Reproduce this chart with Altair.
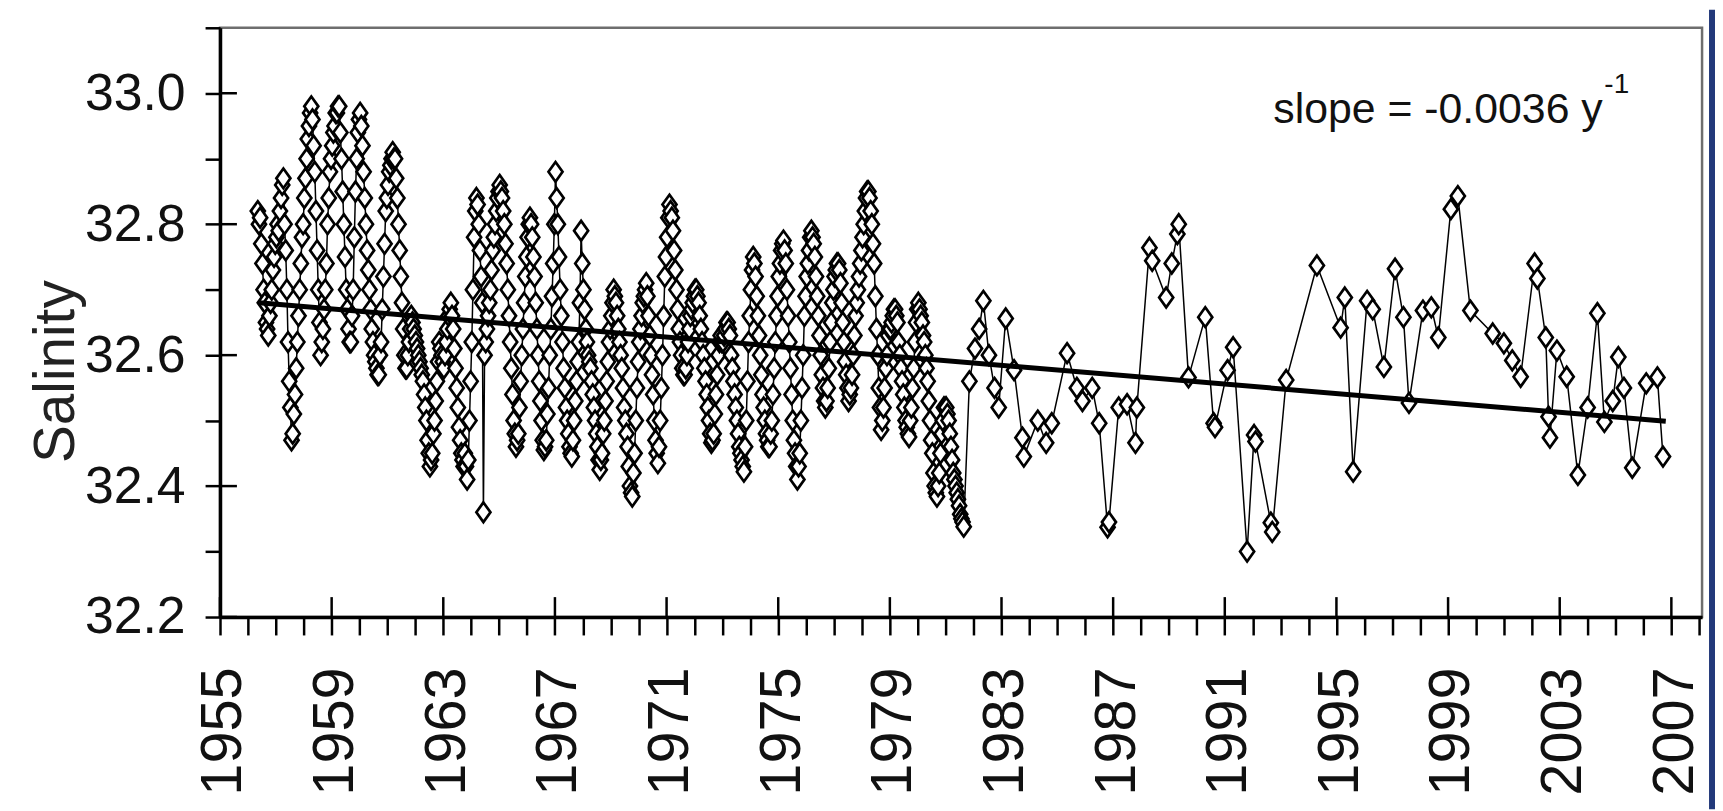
import altair as alt
import pandas as pd

# ---------------- data ----------------
# semi-monthly salinity (24 per year); 1956 starts in May, 1981 ends in August
sal_1956 = [32.82, 32.80, 32.81, 32.77, 32.74, 32.70, 32.68, 32.65, 32.64, 32.63, 32.66, 32.68,
            32.70, 32.73, 32.75, 32.77]
sal_1957 = [32.78, 32.80, 32.79, 32.82, 32.84, 32.86, 32.87, 32.80, 32.76, 32.70, 32.62, 32.56,
            32.52, 32.47, 32.48, 32.51, 32.54, 32.58, 32.62, 32.66, 32.70, 32.74, 32.78, 32.80]
sal_1958 = [32.84, 32.87, 32.90, 32.93, 32.95, 32.97, 32.98, 32.96, 32.92, 32.88, 32.82, 32.76,
            32.70, 32.65, 32.60, 32.62, 32.64, 32.67, 32.70, 32.74, 32.80, 32.84, 32.88, 32.90]
sal_1959 = [32.92, 32.94, 32.95, 32.97, 32.97, 32.98, 32.98, 32.94, 32.90, 32.85, 32.80, 32.75,
            32.70, 32.67, 32.64, 32.62, 32.62, 32.66, 32.70, 32.78, 32.85, 32.90, 32.94, 32.96]
sal_1960 = [32.97, 32.95, 32.92, 32.88, 32.84, 32.80, 32.76, 32.73, 32.70, 32.67, 32.64, 32.62,
            32.60, 32.59, 32.58, 32.57, 32.57, 32.60, 32.62, 32.67, 32.72, 32.77, 32.82, 32.84]
sal_1961 = [32.86, 32.88, 32.89, 32.90, 32.91, 32.90, 32.90, 32.87, 32.84, 32.80, 32.76, 32.72,
            32.68, 32.64, 32.60, 32.58, 32.58, 32.60, 32.62, 32.64, 32.66, 32.65, 32.64, 32.63]
sal_1962 = [32.62, 32.61, 32.60, 32.59, 32.58, 32.57, 32.56, 32.54, 32.52, 32.50, 32.47, 32.45,
            32.43, 32.44, 32.45, 32.48, 32.50, 32.53, 32.56, 32.59, 32.62, 32.61, 32.60, 32.59]
sal_1963 = [32.58, 32.60, 32.62, 32.64, 32.66, 32.67, 32.68, 32.66, 32.64, 32.61, 32.58, 32.55,
            32.52, 32.49, 32.47, 32.45, 32.44, 32.43, 32.45, 32.43, 32.41, 32.44, 32.50, 32.56]
sal_1964 = [32.62, 32.70, 32.78, 32.82, 32.84, 32.83, 32.80, 32.76, 32.72, 32.68, 32.36, 32.60,
            32.62, 32.64, 32.66, 32.68, 32.70, 32.73, 32.76, 32.78, 32.80, 32.82, 32.84, 32.85]
sal_1965 = [32.86, 32.85, 32.84, 32.82, 32.80, 32.77, 32.74, 32.70, 32.66, 32.62, 32.58, 32.54,
            32.50, 32.48, 32.46, 32.47, 32.48, 32.52, 32.56, 32.60, 32.64, 32.68, 32.72, 32.75]
sal_1966 = [32.78, 32.80, 32.81, 32.80, 32.78, 32.75, 32.72, 32.68, 32.64, 32.60, 32.56, 32.53,
            32.50, 32.47, 32.455, 32.46, 32.47, 32.51, 32.55, 32.60, 32.64, 32.69, 32.74, 32.80]
sal_1967 = [32.88, 32.84, 32.80, 32.75, 32.70, 32.66, 32.62, 32.58, 32.55, 32.52, 32.50, 32.48,
            32.46, 32.45, 32.445, 32.47, 32.50, 32.53, 32.56, 32.59, 32.62, 32.68, 32.79, 32.74]
sal_1968 = [32.70, 32.67, 32.64, 32.62, 32.60, 32.59, 32.58, 32.56, 32.54, 32.52, 32.50, 32.48,
            32.46, 32.44, 32.425, 32.44, 32.45, 32.48, 32.50, 32.53, 32.56, 32.59, 32.62, 32.64]
sal_1969 = [32.66, 32.68, 32.70, 32.69, 32.68, 32.66, 32.64, 32.62, 32.60, 32.58, 32.55, 32.52,
            32.50, 32.48, 32.46, 32.43, 32.40, 32.39, 32.384, 32.42, 32.45, 32.50, 32.55, 32.59]
sal_1970 = [32.62, 32.64, 32.66, 32.68, 32.69, 32.70, 32.71, 32.69, 32.66, 32.63, 32.60, 32.57,
            32.54, 32.50, 32.47, 32.45, 32.435, 32.46, 32.50, 32.55, 32.60, 32.66, 32.72, 32.75]
sal_1971 = [32.78, 32.81, 32.83, 32.82, 32.81, 32.79, 32.76, 32.73, 32.70, 32.67, 32.64, 32.62,
            32.60, 32.58, 32.57, 32.57, 32.58, 32.60, 32.62, 32.64, 32.66, 32.67, 32.68, 32.69]
sal_1972 = [32.70, 32.70, 32.69, 32.68, 32.66, 32.64, 32.62, 32.60, 32.58, 32.56, 32.54, 32.52,
            32.50, 32.48, 32.466, 32.47, 32.48, 32.51, 32.54, 32.57, 32.60, 32.62, 32.63, 32.62]
sal_1973 = [32.62, 32.63, 32.64, 32.65, 32.65, 32.64, 32.63, 32.60, 32.58, 32.56, 32.54, 32.52,
            32.50, 32.48, 32.46, 32.45, 32.44, 32.43, 32.422, 32.46, 32.50, 32.56, 32.62, 32.66]
sal_1974 = [32.70, 32.73, 32.75, 32.74, 32.72, 32.69, 32.66, 32.63, 32.60, 32.57, 32.54, 32.52,
            32.50, 32.48, 32.47, 32.46, 32.46, 32.48, 32.50, 32.54, 32.58, 32.62, 32.66, 32.69]
sal_1975 = [32.72, 32.74, 32.76, 32.77, 32.775, 32.76, 32.74, 32.70, 32.66, 32.62, 32.58, 32.54,
            32.50, 32.47, 32.45, 32.43, 32.41, 32.43, 32.45, 32.50, 32.55, 32.60, 32.66, 32.69]
sal_1976 = [32.72, 32.74, 32.76, 32.78, 32.79, 32.78, 32.77, 32.75, 32.72, 32.69, 32.66, 32.63,
            32.60, 32.57, 32.55, 32.53, 32.52, 32.53, 32.55, 32.58, 32.62, 32.65, 32.68, 32.70]
sal_1977 = [32.72, 32.73, 32.74, 32.74, 32.73, 32.71, 32.68, 32.65, 32.62, 32.59, 32.57, 32.55,
            32.53, 32.54, 32.55, 32.57, 32.60, 32.63, 32.66, 32.68, 32.70, 32.72, 32.74, 32.76]
sal_1978 = [32.78, 32.80, 32.82, 32.84, 32.85, 32.85, 32.84, 32.82, 32.80, 32.77, 32.74, 32.69,
            32.64, 32.60, 32.55, 32.52, 32.486, 32.50, 32.52, 32.55, 32.58, 32.60, 32.63, 32.64]
sal_1979 = [32.64, 32.65, 32.66, 32.67, 32.67, 32.66, 32.65, 32.62, 32.60, 32.58, 32.56, 32.54,
            32.52, 32.50, 32.49, 32.48, 32.475, 32.50, 32.52, 32.55, 32.58, 32.62, 32.65, 32.67]
sal_1980 = [32.68, 32.67, 32.66, 32.65, 32.63, 32.62, 32.60, 32.58, 32.56, 32.53, 32.50, 32.47,
            32.45, 32.42, 32.40, 32.39, 32.384, 32.40, 32.42, 32.45, 32.48, 32.50, 32.52, 32.52]
sal_1981 = [32.52, 32.51, 32.50, 32.48, 32.46, 32.44, 32.42, 32.41, 32.40, 32.39, 32.38, 32.37,
            32.357, 32.35, 32.345, 32.338]

# irregular samples after 1981
late_year = [1981.85, 1982.05, 1982.2, 1982.35, 1982.55, 1982.75, 1982.9, 1983.15, 1983.45,
             1983.75, 1983.8, 1984.3, 1984.6, 1984.8, 1985.35, 1985.7, 1985.9, 1986.25,
             1986.5, 1986.8, 1986.85, 1987.2, 1987.5, 1987.8, 1987.85, 1988.3, 1988.4,
             1988.9, 1989.1, 1989.3, 1989.35, 1989.7, 1990.3, 1990.6, 1990.65, 1991.1,
             1991.3, 1991.8, 1992.05, 1992.1, 1992.65, 1992.7, 1993.2, 1994.3, 1995.15,
             1995.3, 1995.6, 1996.1, 1996.3, 1996.7, 1997.1, 1997.4, 1997.6, 1998.1,
             1998.4, 1998.65, 1999.1, 1999.35, 1999.8, 2000.6, 2001.0, 2001.3, 2001.6,
             2002.1, 2002.2, 2002.5, 2002.6, 2002.65, 2002.9, 2003.25, 2003.65, 2004.0,
             2004.35, 2004.6, 2004.9, 2005.1, 2005.3, 2005.6, 2006.1, 2006.5, 2006.7]
late_sal = [32.56, 32.61, 32.64, 32.683, 32.60, 32.55, 32.52, 32.656, 32.577,
            32.474, 32.445, 32.50, 32.466, 32.496, 32.603, 32.55, 32.53, 32.55,
            32.496, 32.337, 32.345, 32.52, 32.525, 32.466, 32.52, 32.764, 32.744,
            32.688, 32.74, 32.785, 32.80, 32.566, 32.658, 32.496, 32.49, 32.577,
            32.612, 32.30, 32.478, 32.468, 32.344, 32.33, 32.562, 32.737, 32.642,
            32.688, 32.422, 32.683, 32.67, 32.582, 32.732, 32.658, 32.527, 32.668,
            32.673, 32.627, 32.823, 32.843, 32.668, 32.633, 32.618, 32.592, 32.567,
            32.74, 32.717, 32.627, 32.506, 32.474, 32.607, 32.567, 32.417, 32.52,
            32.664, 32.498, 32.53, 32.597, 32.55, 32.428, 32.557, 32.566, 32.445]

# linear trend (slope -0.0036 per year)
trend_year = [1956.4, 2006.8]
trend_sal = [32.680, 32.499]

# axis ticks and labels
x_major = [1955, 1959, 1963, 1967, 1971, 1975, 1979, 1983, 1987, 1991, 1995, 1999, 2003, 2007]
x_all = list(range(1955, 2009))
y_major = [32.2, 32.4, 32.6, 32.8, 33.0]
y_all = [32.2, 32.3, 32.4, 32.5, 32.6, 32.7, 32.8, 32.9, 33.0, 33.1]
slope_label = "slope = -0.0036 y"
slope_sup = "-1"

# ---------------- build table ----------------
halfmonthly = [(1956, sal_1956, 8), (1957, sal_1957, 0), (1958, sal_1958, 0), (1959, sal_1959, 0),
               (1960, sal_1960, 0), (1961, sal_1961, 0), (1962, sal_1962, 0), (1963, sal_1963, 0),
               (1964, sal_1964, 0), (1965, sal_1965, 0), (1966, sal_1966, 0), (1967, sal_1967, 0),
               (1968, sal_1968, 0), (1969, sal_1969, 0), (1970, sal_1970, 0), (1971, sal_1971, 0),
               (1972, sal_1972, 0), (1973, sal_1973, 0), (1974, sal_1974, 0), (1975, sal_1975, 0),
               (1976, sal_1976, 0), (1977, sal_1977, 0), (1978, sal_1978, 0), (1979, sal_1979, 0),
               (1980, sal_1980, 0), (1981, sal_1981, 0)]
rows = []
for yr, vals, k0 in halfmonthly:
    for i, v in enumerate(vals):
        rows.append({"t": yr + (k0 + i + 0.5) / 24.0, "s": v})
for t, v in zip(late_year, late_sal):
    rows.append({"t": t, "s": v})
df = pd.DataFrame(rows).sort_values("t").reset_index(drop=True)
df["i"] = range(len(df))

trend_df = pd.DataFrame({"t": trend_year, "s": trend_sal})

W, H = 1489, 592
XD = [1955, 2008.1]
YD = [32.2, 33.1]
FONT = "Liberation Sans, Arial, sans-serif"

xs = alt.Scale(domain=XD, nice=False, zero=False)
ys = alt.Scale(domain=YD, nice=False, zero=False)

x_axis = alt.Axis(values=x_all, format="d",
                  labelExpr="(datum.value - 1955) % 4 == 0 ? datum.label : ''",
                  labelAngle=270, labelFont=FONT, labelFontSize=58, labelColor="#111",
                  labelPadding=32, labelOffset=4, labelOverlap=False, labelFlush=False,
                  labelLimit=300,
                  tickSize=18, tickWidth=2.5, tickColor="black",
                  domainColor="black", domainWidth=3.5, grid=False, title=None, zindex=1)
y_axis = alt.Axis(values=y_all, format=".1f",
                  labelExpr="round(datum.value * 10) % 2 == 0 ? datum.label : ''",
                  labelFont=FONT, labelFontSize=52, labelColor="#111",
                  labelPadding=20, labelOverlap=False, labelFlush=False, labelLimit=300,
                  tickSize=15, tickWidth=2.5, tickColor="black",
                  domainColor="black", domainWidth=3.5, grid=False,
                  title="Salinity", titleFont=FONT, titleFontSize=57, titleFontWeight="normal",
                  titleColor="#222", titleAngle=270, titleX=-164, titleY=345,
                  titleAlign="center", titleBaseline="middle", zindex=1)

X = alt.X("t:Q", scale=xs, axis=x_axis)
Y = alt.Y("s:Q", scale=ys, axis=y_axis)

base = alt.Chart(df)
conn = base.mark_line(color="black", strokeWidth=1.5).encode(x=X, y=Y, order="i:Q")
pts = base.mark_point(
    shape="M0,-1.4L1,0L0,1.4L-1,0Z", filled=True, fill="white", stroke="black",
    strokeWidth=2.7, size=200, opacity=1,
).encode(x=X, y=Y)

trend = alt.Chart(trend_df).mark_line(color="black", strokeWidth=5).encode(x=X, y=Y)

xmaj_df = pd.DataFrame({"t": x_major})
xmaj_in = alt.Chart(xmaj_df).mark_rule(color="black", strokeWidth=2.5).encode(
    x=X, y=alt.value(H - 20), y2=alt.value(H))
ymaj_df = pd.DataFrame({"s": y_major})
ymaj_in = alt.Chart(ymaj_df).mark_rule(color="black", strokeWidth=2.5).encode(
    y=Y, x=alt.value(0), x2=alt.value(17))

note_df = pd.DataFrame({"t": [2004.54], "s": [32.954], "txt": [slope_label]})
note = alt.Chart(note_df).mark_text(
    font=FONT, fontSize=43, color="#111", align="right", baseline="alphabetic").encode(
    x=X, y=Y, text="txt:N")
sup_df = pd.DataFrame({"t": [2004.6], "s": [33.0], "txt": [slope_sup]})
sup = alt.Chart(sup_df).mark_text(
    font=FONT, fontSize=28, color="#111", align="left", baseline="alphabetic").encode(
    x=X, y=Y, text="txt:N")

# slide frame strip on the right edge
frame_df = pd.DataFrame({"k": [1]})
frame = alt.Chart(frame_df).mark_rect(color="#22397a").encode(
    x=alt.value(W + 7), x2=alt.value(W + 14), y=alt.value(-18), y2=alt.value(H + 193))

chart = alt.layer(conn, pts, trend, xmaj_in, ymaj_in, note, sup, frame).properties(
    width=W, height=H,
    padding={"left": 213, "top": 18, "right": 13, "bottom": 193},
    autosize=alt.AutoSizeParams(type="none"),
    background="white",
).resolve_scale(x="shared", y="shared").configure_view(stroke="#6e6e6e", strokeWidth=2.5)

chart.save("out.html", embed_options={"renderer": "svg", "actions": False})
